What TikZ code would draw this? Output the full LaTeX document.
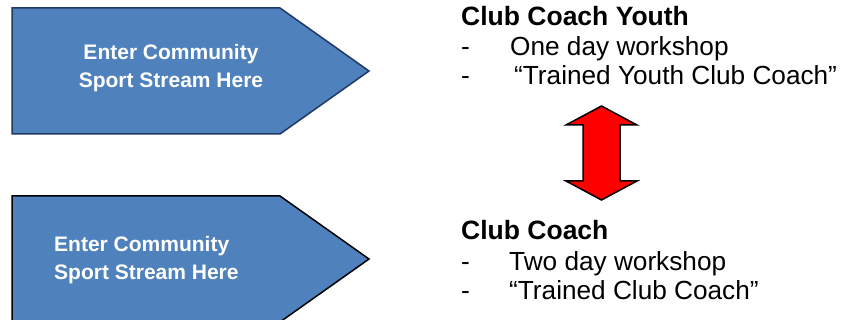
\documentclass[tikz,border=0pt]{standalone}
\usepackage{fontspec}
\setmainfont{Liberation Sans}
\definecolor{pentblue}{HTML}{4F81BD}
\definecolor{navyline}{HTML}{1F3864}
\begin{document}
\begin{tikzpicture}[x=1pt,y=-1pt,
  pent/.style={fill=pentblue,line width=1.5pt,line join=miter},
  pentlabel/.style={text=white,font=\fontsize{21}{25}\selectfont\bfseries,inner sep=0pt},
  titletext/.style={anchor=base west,font=\fontsize{26.5}{30}\selectfont\bfseries,inner sep=0pt},
  bodytext/.style={anchor=base west,font=\fontsize{26.2}{30}\selectfont,inner sep=0pt},
  dblarrow/.style={fill=red,draw=black,line width=1.5pt,line join=miter}]
\useasboundingbox (0,0) rectangle (850,320);
\clip (0,0) rectangle (850,320);
\fill[white] (0,0) rectangle (850,320);
% pentagons
\draw[pent,draw=navyline] (12,8) -- (280,8) -- (369,71) -- (280,134) -- (12,134) -- cycle;
\draw[pent,draw=black] (12,196) -- (280,196) -- (369,259) -- (280,322) -- (12,322) -- cycle;
\node[pentlabel,anchor=base] (p1a) at (171,60) {Enter Community};
\node[pentlabel,anchor=base] (p1b) at (171,88) {Sport Stream Here};
\node[pentlabel,anchor=base west] (p2a) at (54,251) {Enter Community};
\node[pentlabel,anchor=base west] (p2b) at (54,279) {Sport Stream Here};
% double arrow
\draw[dblarrow] (601.5,106) -- (637,125) -- (620,125) -- (620,181) -- (637,181)
  -- (601.5,200) -- (566,181) -- (583,181) -- (583,125) -- (566,125) -- cycle;
% right texts
\node[titletext] (t1) at (461,26) {Club Coach Youth};
\node[bodytext] (d1) at (461,56) {-};
\node[bodytext] (l1) at (510,56) {One day workshop};
\node[bodytext] (d2) at (461,85) {-};
\node[bodytext] (l2) at (514,85) {“Trained Youth Club Coach”};
\node[titletext] (t2) at (461,240) {Club Coach};
\node[bodytext] (d3) at (461,270) {-};
\node[bodytext] (l3) at (509,270) {Two day workshop};
\node[bodytext] (d4) at (461,299) {-};
\node[bodytext] (l4) at (509,299) {“Trained Club Coach”};
\end{tikzpicture}
\end{document}
